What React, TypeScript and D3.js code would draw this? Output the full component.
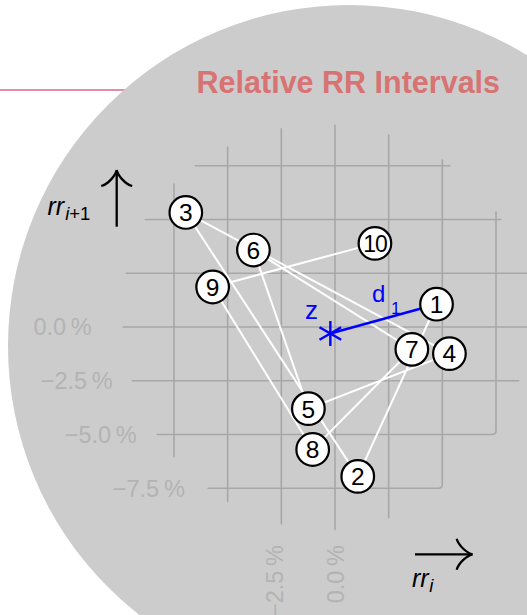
import React from "react";
import * as d3 from "d3";

// Relative RR intervals (percent); point k is (rr[k], rr[k+1])
const rrSeries = [4.73, 1.06, -6.95, 5.33, -1.24, -3.8, 3.58, -1.04, -5.7, 1.86, 3.89];

// Grid lines (percent) with their drawn extents
const gridTicks = [-7.5, -5, -2.5, 0, 2.5, 5, 7.5];
const vGridTop = [6.65, 8.37, 9.22, 9.4, 8.93, 7.77, 5.35];
const vGridBottom = [-6.03, -8.12, -9.15, -9.42, -8.87, -7.5, -5.0];
const hGridLeft = [-5.91, -8.28, -9.44, -9.87, -9.72, -8.84, -6.51];
const hGridRight = [5.0, 7.5, 8.56, 10.6, 10.6, 7.72, 5.35];

const yTickValues = [0, -2.5, -5, -7.5];
const yTickLabels = ["0.0\u2009%", "\u22122.5\u2009%", "\u22125.0\u2009%", "\u22127.5\u2009%"];
const xTickValues = [-2.5, 0];
const xTickLabels = ["\u22122.5\u2009%", "0.0\u2009%"];

const TITLE = "Relative RR Intervals";

// Layout (pixels)
const W = 527;
const H = 615;
const yLabelRight = [91.7, 112.7, 136.7, 184.8];
const xLabelCenter = [275, 336];
const xLabelTop = 545;

const FONT = "'Liberation Sans', Arial, sans-serif";
const GRID = "#a7a7a7";
const BLUE = "#0000ff";

function arrowHead(tx: number, ty: number, dx: number, dy: number) {
  // curved barbs; (dx,dy) is the forward direction, (px,py) perpendicular
  const px = -dy;
  const py = dx;
  const pt = (u: number, v: number) => [tx + u * dx + v * px, ty + u * dy + v * py];
  const barb = (s: number) => {
    const e = pt(-16, 15.5 * s);
    const c1 = pt(-14, 8 * s);
    const c2 = pt(-5, 1 * s);
    return `M${e[0]},${e[1]} C${c1[0]},${c1[1]} ${c2[0]},${c2[1]} ${tx},${ty}`;
  };
  return barb(1) + " " + barb(-1);
}

export default function App() {
  const x = d3.scaleLinear().domain([-7.5, 7.5]).range([174, 496]);
  const y = d3.scaleLinear().domain([-7.5, 7.5]).range([488.2, 165.8]);

  const points = rrSeries.slice(0, -1).map((v, i) => ({
    id: i + 1,
    x: v,
    y: rrSeries[i + 1],
  }));
  const zx = d3.mean(points, (p) => p.x) as number;
  const zy = d3.mean(points, (p) => p.y) as number;

  const pathLine = d3
    .line<{ x: number; y: number }>()
    .x((p) => x(p.x))
    .y((p) => y(p.y));

  // grid paths; a vertical line ending on a horizontal line's end gets a rounded corner
  const gridPaths: string[] = [];
  const joinedH = new Set<number>();
  gridTicks.forEach((t, i) => {
    const gx = x(t);
    const yTop = y(vGridTop[i]);
    const yBot = y(vGridBottom[i]);
    const hi = gridTicks.indexOf(vGridBottom[i]);
    if (hi >= 0 && hGridRight[hi] === t) {
      const r = 4;
      const hx0 = x(hGridLeft[hi]);
      gridPaths.push(
        `M${gx},${yTop} L${gx},${yBot - r} Q${gx},${yBot} ${gx - r},${yBot} L${hx0},${yBot}`
      );
      joinedH.add(hi);
    } else {
      gridPaths.push(`M${gx},${yTop} L${gx},${yBot}`);
    }
  });
  gridTicks.forEach((t, i) => {
    if (joinedH.has(i)) return;
    const gy = y(t);
    gridPaths.push(`M${x(hGridLeft[i])},${gy} L${x(hGridRight[i])},${gy}`);
  });

  const p1 = points[0];
  const starR = 12.5;
  const star = [90, 30, 150].map((a) => {
    const r = (a * Math.PI) / 180;
    const cx = x(zx);
    const cy = y(zy);
    return `M${cx - starR * Math.cos(r)},${cy - starR * Math.sin(r)} L${cx + starR * Math.cos(r)},${cy + starR * Math.sin(r)}`;
  });

  return (
    <>
      <style>{`body{margin:0}`}</style>
      <svg width={W} height={H} style={{ display: "block" }} fontFamily={FONT}>
        <rect width={W} height={H} fill="#ffffff" />
        <line x1={0} x2={200} y1={90} y2={90} stroke="#d9668c" strokeWidth={1.5} />
        <circle cx={349} cy={346} r={341} fill="#cccccc" />

        <g fill="none" stroke={GRID} strokeWidth={1.6} strokeLinecap="round">
          {gridPaths.map((d, i) => (
            <path key={i} d={d} />
          ))}
        </g>

        <g fill="#b3b3b3" fontSize={23.5}>
          {yTickValues.map((v, i) => (
            <text key={i} x={yLabelRight[i]} y={y(v)} dy="0.36em" textAnchor="end">
              {yTickLabels[i]}
            </text>
          ))}
          {xTickValues.map((v, i) => (
            <text
              key={i}
              transform={`translate(${xLabelCenter[i]},${xLabelTop}) rotate(-90)`}
              dy="0.36em"
              textAnchor="end"
            >
              {xTickLabels[i]}
            </text>
          ))}
        </g>

        <path d={pathLine(points) ?? ""} fill="none" stroke="#ffffff" strokeWidth={2} />

        <line
          x1={x(zx)}
          y1={y(zy)}
          x2={x(p1.x)}
          y2={y(p1.y)}
          stroke={BLUE}
          strokeWidth={2.5}
        />
        <g stroke={BLUE} strokeWidth={2.4}>
          {star.map((d, i) => (
            <path key={i} d={d} />
          ))}
        </g>
        <text x={305} y={318.5} fontSize={26} fill={BLUE}>
          z
        </text>
        <text x={372} y={302} fontSize={24} fill={BLUE}>
          d
        </text>
        <text x={391} y={314} fontSize={17} fill={BLUE}>
          1
        </text>

        {points.map((p) => (
          <g key={p.id} transform={`translate(${x(p.x)},${y(p.y)})`}>
            <circle r={16.3} fill="#ffffff" stroke="#000000" strokeWidth={2.2} />
            <text
              textAnchor="middle"
              dy="0.36em"
              fontSize={p.id > 9 ? 23 : 24.5}
              fill="#000000"
              letterSpacing={p.id > 9 ? -1 : 0}
            >
              {p.id}
            </text>
          </g>
        ))}

        {/* axis names and arrows */}
        <text x={47.5} y={215} fontSize={25} fontStyle="italic" fill="#000">
          rr
          <tspan dx={1} dy={4.5} fontSize={18.5}>
            i
          </tspan>
          <tspan fontStyle="normal" fontSize={18.5}>
            +1
          </tspan>
        </text>
        <g fill="none" stroke="#000" strokeWidth={2.3}>
          <path d={`M116.7,226.7 L116.7,171`} />
          <path d={arrowHead(116.7, 170, 0, -1)} />
          <path d={`M415,554.3 L472,554.3`} />
          <path d={arrowHead(472.7, 554.3, 1, 0)} />
        </g>
        <text x={412} y={586.7} fontSize={25} fontStyle="italic" fill="#000">
          rr
          <tspan dx={0.5} dy={5} fontSize={18.5}>
            i
          </tspan>
        </text>

        <text x={196.6} y={93.4} fontSize={30.5} fontWeight="bold" fill="#d87373">
          {TITLE}
        </text>
      </svg>
    </>
  );
}
